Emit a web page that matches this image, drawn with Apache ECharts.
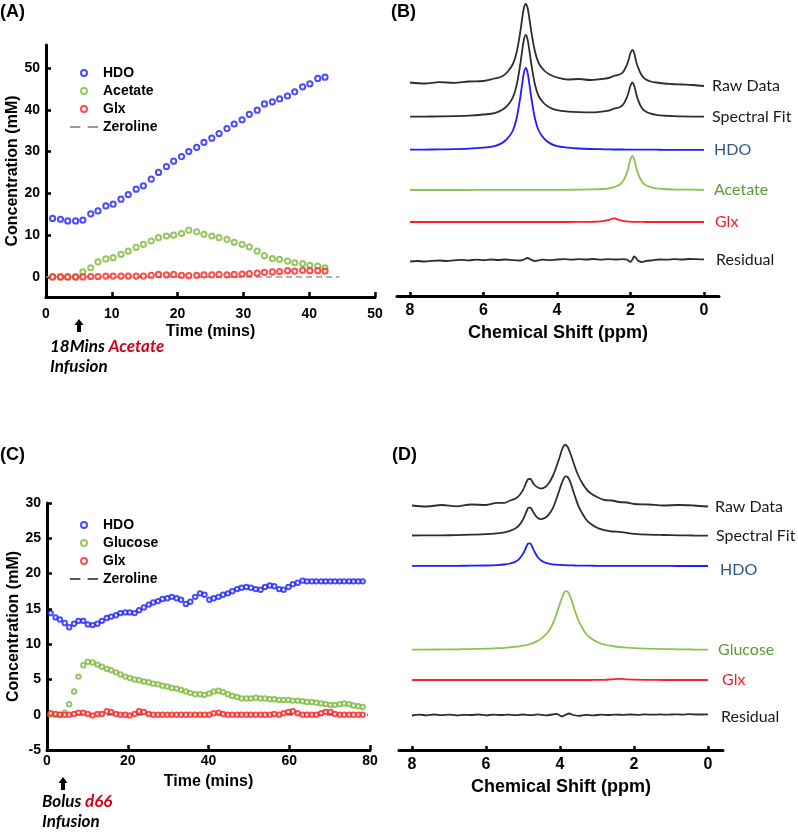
<!DOCTYPE html>
<html>
<head>
<meta charset="utf-8">
<script src="https://cdn.jsdelivr.net/npm/echarts@6/dist/echarts.min.js"></script>
<style>
  html, body { margin: 0; padding: 0; background: #fff; }
  #main { width: 798px; height: 833px; }
</style>
</head>
<body>
<div id="main"></div>
<script>
// ---- panel A : acetate infusion time course ----
var timeA = [1.0, 2.2, 3.3, 4.5, 5.6, 6.8, 7.9, 9.1, 10.2, 11.4,
  12.5, 13.7, 14.8, 16.0, 17.1, 18.3, 19.4, 20.6, 21.7, 22.9,
  24.0, 25.2, 26.3, 27.5, 28.6, 29.8, 30.9, 32.1, 33.2, 34.4,
  35.5, 36.7, 37.8, 39.0, 40.1, 41.3, 42.4];
var hdoA = [14.0, 13.8, 13.4, 13.4, 13.6, 15.1, 15.8, 17.0, 17.4, 18.6,
  19.7, 21.0, 21.8, 23.4, 25.0, 26.4, 27.7, 28.8, 30.0, 31.0,
  32.2, 33.2, 34.3, 35.5, 36.6, 37.6, 38.9, 39.9, 41.4, 41.9,
  42.6, 43.3, 44.3, 45.5, 46.2, 47.5, 47.8];
var acetateA = [0, 0, 0, 0, 1.2, 2.2, 3.6, 4.3, 4.6, 5.4,
  6.2, 7.1, 7.8, 8.6, 9.4, 9.8, 10.0, 10.4, 11.2, 10.8,
  10.2, 9.8, 9.4, 9.0, 8.3, 7.8, 7.2, 6.2, 5.1, 4.4,
  4.2, 3.8, 3.4, 3.2, 2.8, 2.6, 2.2];
var glxA = [0, 0, 0, 0, 0, 0.1, 0.1, 0.2, 0.2, 0.2,
  0.2, 0.2, 0.2, 0.4, 0.6, 0.5, 0.6, 0.4, 0.3, 0.4,
  0.5, 0.5, 0.6, 0.5, 0.6, 0.7, 0.8, 0.9, 1.1, 1.2,
  1.3, 1.5, 1.4, 1.6, 1.5, 1.5, 1.4];
var zeroA = [[0, 0], [44.6, 0]];
var yTicksA = [0, 10, 20, 30, 40, 50];

// ---- panel C : bolus d66 glucose time course ----
var timeC = [0.9, 2.1, 3.2, 4.4, 5.5, 6.7, 7.8, 9.0, 10.1, 11.3,
  12.5, 13.6, 14.8, 15.9, 17.1, 18.2, 19.4, 20.5, 21.7, 22.8,
  24.0, 25.2, 26.3, 27.5, 28.6, 29.8, 30.9, 32.1, 33.2, 34.4,
  35.5, 36.7, 37.9, 39.0, 40.2, 41.3, 42.5, 43.6, 44.8, 45.9,
  47.1, 48.2, 49.4, 50.5, 51.7, 52.9, 54.0, 55.2, 56.3, 57.5,
  58.6, 59.8, 60.9, 62.1, 63.3, 64.4, 65.6, 66.7, 67.9, 69.0,
  70.2, 71.3, 72.5, 73.6, 74.8, 75.9, 77.1, 78.2];
var hdoC = [14.4, 13.8, 13.5, 13.0, 12.4, 12.9, 13.3, 13.3, 12.8, 12.7,
  12.9, 13.3, 13.7, 13.9, 14.1, 14.4, 14.5, 14.5, 14.4, 14.8,
  15.2, 15.6, 15.9, 16.1, 16.4, 16.5, 16.7, 16.5, 16.3, 15.7,
  16.0, 16.7, 17.2, 17.0, 16.3, 16.5, 16.7, 17.0, 17.2, 17.5,
  17.8, 18.0, 18.1, 18.0, 17.8, 17.7, 18.1, 18.3, 18.2, 17.8,
  17.7, 18.1, 18.5, 18.7, 19.0, 18.9, 18.9, 18.9, 18.9, 18.9,
  18.9, 18.9, 18.9, 18.9, 18.9, 18.9, 18.9, 18.9];
var glucoseC = [0, 0, 0, 0.3, 1.5, 3.3, 5.4, 7.0, 7.5, 7.4,
  7.1, 6.8, 6.5, 6.3, 6.0, 5.7, 5.4, 5.2, 5.0, 4.9,
  4.7, 4.6, 4.4, 4.3, 4.1, 4.0, 3.8, 3.7, 3.5, 3.3,
  3.1, 2.9, 2.9, 2.8, 3.0, 3.3, 3.4, 3.2, 2.9, 2.65,
  2.5, 2.3, 2.3, 2.3, 2.4, 2.3, 2.3, 2.2, 2.2, 2.1,
  2.1, 2.1, 2.0, 2.0, 1.9, 1.8, 1.8, 1.7, 1.6, 1.5,
  1.4, 1.4, 1.5, 1.6, 1.5, 1.3, 1.2, 1.1];
var glxC = [0.2, 0.1, 0, 0, 0, 0.1, 0.3, 0.3, 0.1, -0.1,
  0.1, 0.1, 0.5, 0.4, 0.1, 0, 0, -0.1, 0.1, 0.5,
  0.4, 0.1, 0, 0, 0, 0, 0, 0, 0, 0,
  0, 0, 0, 0, 0, 0.2, 0.3, 0.1, 0, 0,
  0, 0, 0, 0, 0, 0, 0, 0, 0.1, 0,
  0.2, 0.4, 0.5, 0.2, 0, 0, 0, 0, 0.2, 0.4,
  0.4, 0.1, 0, 0, 0, 0, 0, 0];
var zeroC = [[0, 0], [79.5, 0]];

// ---- panel B : spectra after acetate ----
var ppmB = [8.0, 7.6, 7.2, 6.8, 6.4, 6.0, 5.7, 5.5, 5.35, 5.2,
  5.1, 5.0, 4.95, 4.9, 4.85, 4.8, 4.75, 4.7, 4.6, 4.5,
  4.35, 4.2, 4.0, 3.7, 3.4, 3.1, 2.8, 2.6, 2.45, 2.3,
  2.2, 2.1, 2.05, 2.0, 1.95, 1.9, 1.85, 1.8, 1.7, 1.6,
  1.45, 1.3, 1.1, 0.9, 0.6, 0.3, 0.0];
var rawB = [0.5, -0.5, 0.8, 0.2, 1.5, 2.0, 4.5, 6.5, 11, 19,
  30.5, 51, 64, 75, 79, 75, 64, 51.5, 31.5, 20,
  12.5, 8.5, 5.5, 3.5, 4.0, 3.0, 4.0, 5.0, 7.0, 8.5,
  11, 18, 23.5, 30, 33, 30, 22, 16, 8, 4,
  1.5, 0.5, -0.5, -1.0, -1.5, -2.0, -3.0];
var fitB = [0.3, 0.4, 0.6, 0.8, 1.3, 2.5, 3.9, 7.0, 11.4, 19.6,
  31.6, 52.6, 65.7, 77.3, 82.1, 77.4, 66, 53, 32.5, 21,
  13.5, 9.5, 6.8, 5.4, 4.8, 4.6, 5.3, 6.3, 8.4, 9.8,
  12.5, 19.5, 25, 31.5, 34.7, 31.2, 24, 17.6, 9.5, 5.8,
  3.3, 2.1, 1.3, 1.0, 0.6, 0.4, 0.3];
var hdoB = [0.3, 0.4, 0.6, 0.8, 1.3, 2.4, 3.8, 6.9, 11.3, 19.5,
  31.5, 52.5, 65.6, 77.2, 82, 77.2, 65.6, 52.5, 31.5, 19.5,
  11.3, 6.9, 3.8, 2.4, 1.5, 1.0, 0.8, 0.6, 0.5, 0.5,
  0.5, 0.4, 0.4, 0.4, 0.4, 0.4, 0.4, 0.4, 0.3, 0.3,
  0.3, 0.3, 0.2, 0.2, 0.2, 0.1, 0.1];
var acetateB = [0, 0, 0, 0, 0, 0.1, 0.1, 0.1, 0.1, 0.1,
  0.1, 0.1, 0.1, 0.1, 0.1, 0.1, 0.1, 0.1, 0.1, 0.1,
  0.1, 0.1, 0.1, 0.2, 0.3, 0.6, 1.0, 1.7, 2.9, 5.3,
  9, 17, 23.5, 30.6, 34, 30.6, 23.5, 17, 9, 5.3,
  2.9, 1.7, 1.0, 0.7, 0.4, 0.3, 0.2];
var glxB = [0, 0, 0, 0, 0, 0, 0, 0, 0, 0,
  0, 0, 0, 0, 0, 0, 0, 0, 0, 0,
  0, 0, 0, 0, 0.1, 0.2, 0.6, 2.0, 3.6, 2.0,
  1.1, 0.6, 0.4, 0.3, 0.2, 0.2, 0.1, 0.1, 0.1, 0,
  0, 0, 0, 0, 0, 0, 0];
var resPpmB = [8.0, 7.8, 7.6, 7.4, 7.2, 7.0, 6.8, 6.6, 6.4, 6.2,
  6.0, 5.8, 5.6, 5.4, 5.2, 5.0, 4.9, 4.8, 4.7, 4.6,
  4.4, 4.2, 4.0, 3.8, 3.6, 3.4, 3.2, 3.0, 2.8, 2.6,
  2.4, 2.2, 2.1, 2.0, 1.95, 1.9, 1.85, 1.8, 1.7, 1.6,
  1.4, 1.2, 1.0, 0.8, 0.6, 0.4, 0.2, 0.0];
var resB = [-1.5, -1.0, -1.5, -0.8, -0.5, -1.0, -0.3, 0.2, -0.3, 0.3,
  -0.2, 0.5, 0.0, 0.5, -0.2, -0.5, 0.5, 2.0, 0.2, -1.0,
  0.3, -0.2, 0.5, 0.8, 0.3, 0.8, 0.5, 1.0, 0.3, 0.8,
  0.5, 0.8, 0.3, -1.8, 0.5, 3.5, 2.0, -0.5, -2.0, -1.2,
  -0.3, 0.5, 0.3, 0.8, 0.5, 1.0, 0.8, 0.6];

// ---- panel D : spectra after glucose ----
var ppmD = [8.0, 7.6, 7.2, 6.8, 6.4, 6.0, 5.7, 5.5, 5.35, 5.2,
  5.1, 5.0, 4.95, 4.9, 4.85, 4.8, 4.75, 4.7, 4.6, 4.5,
  4.4, 4.3, 4.2, 4.1, 4.0, 3.95, 3.9, 3.85, 3.8, 3.75,
  3.7, 3.6, 3.5, 3.4, 3.3, 3.2, 3.0, 2.8, 2.6, 2.4,
  2.2, 2.0, 1.6, 1.2, 0.8, 0.4, 0.0];
var rawD = [0.5, -0.5, 1.0, -0.3, 1.5, 1.0, 3.2, 3.2, 5.5, 7.5,
  10.5, 16, 20, 24.5, 27, 27, 24.5, 21.5, 18.5, 17.5,
  19, 23, 29.5, 39, 50, 56, 60, 61, 59.5, 55.5,
  50.5, 39.5, 30, 23, 17.5, 13.5, 9, 6, 5.5, 4,
  3.5, 2, 1.5, 0.5, 1.0, 0.5, -0.5];
var fitD = [0.5, 0.55, 0.66, 0.9, 1.3, 1.8, 2.7, 3.7, 5.2, 7.7,
  10.8, 16.5, 20.6, 25.0, 28.3, 28.4, 25.8, 22.5, 18.0, 16.9,
  18.2, 21.6, 27.4, 36.7, 47.7, 53.1, 57.4, 59.6, 59.2, 56.4,
  51.7, 40.2, 29.9, 22.7, 16.8, 13.0, 8.2, 5.8, 4.5, 4.2,
  3.1, 2.2, 1.4, 1.0, 0.7, 0.5, 0.4];
var hdoD = [0.1, 0.1, 0.1, 0.2, 0.3, 0.5, 0.9, 1.5, 2.5, 4.4,
  7.1, 12.2, 15.9, 20.0, 22.7, 22.4, 19.2, 15.1, 8.8, 5.3,
  3.4, 2.4, 1.7, 1.3, 1.1, 1.0, 0.9, 0.8, 0.7, 0.7,
  0.6, 0.5, 0.4, 0.4, 0.3, 0.3, 0.2, 0.2, 0.2, 0.1,
  0.1, 0.1, 0.1, 0.1, 0, 0, 0];
var glucoseD = [0.4, 0.45, 0.56, 0.72, 0.97, 1.3, 1.8, 2.2, 2.7, 3.3,
  3.7, 4.3, 4.7, 5.0, 5.6, 6.0, 6.6, 7.4, 9.2, 11.6,
  14.8, 19.2, 25.7, 35.4, 46.6, 52.1, 56.5, 58.8, 58.5, 55.7,
  51.1, 39.7, 29.5, 22.3, 16.5, 12.7, 8.0, 5.5, 4.0, 3.0,
  2.3, 1.8, 1.3, 0.9, 0.7, 0.5, 0.4];
var glxD = [0, 0, 0, 0, 0, 0, 0, 0, 0, 0,
  0, 0, 0, 0, 0, 0, 0, 0, 0, 0,
  0, 0, 0, 0, 0, 0, 0, 0, 0, 0,
  0, 0, 0, 0, 0, 0, 0.1, 0.2, 0.7, 1.2,
  0.7, 0.3, 0.1, 0, 0, 0, 0];
var resPpmD = [8.0, 7.8, 7.6, 7.4, 7.2, 7.0, 6.8, 6.6, 6.4, 6.2,
  6.0, 5.8, 5.6, 5.4, 5.2, 5.0, 4.8, 4.6, 4.4, 4.2,
  4.1, 4.0, 3.95, 3.85, 3.75, 3.65, 3.5, 3.3, 3.1, 2.9,
  2.7, 2.5, 2.3, 2.1, 1.9, 1.7, 1.5, 1.3, 1.1, 0.9,
  0.7, 0.5, 0.3, 0.0];
var resD = [-0.5, 0.3, -0.3, 0.5, -0.2, 0.4, -0.3, 0.2, 0.0, 0.5,
  -0.3, 0.3, 0.0, 0.4, -0.2, 0.5, -0.2, 0.6, -0.3, 0.5,
  1.2, -0.5, -1.5, 0.2, 1.5, 0.0, -0.8, 0.2, -0.3, 0.3,
  0.0, 0.4, 0.1, 0.5, 0.2, 0.6, 0.3, 0.6, 0.3, 0.7,
  0.4, 0.8, 0.5, 0.6];
var ppmTicks = [0, 2, 4, 6, 8];

// ---------------------------------------------------------------
var FONT = 'Liberation Sans';
var LABEL_FONT = 'Lato';
var myChart = echarts.init(document.getElementById('main'));

function zip(xs, ys, off) {
  return xs.map(function (x, i) { return [x, ys[i] + (off || 0)]; });
}

var boldTxt = function (size) {
  return { fontFamily: FONT, fontWeight: 'bold', fontSize: size, color: '#000' };
};

function concAxis(grid, min, max, extra) {
  return Object.assign({
    gridIndex: grid, type: 'value', min: min, max: max,
    name: 'Concentration (mM)', nameLocation: 'middle', nameGap: 25,
    nameTextStyle: boldTxt(16),
    axisLine: { show: true, onZero: false, lineStyle: { color: '#000', width: 3 } },
    axisTick: { show: true, inside: true, length: 5, lineStyle: { color: '#000', width: 2.5 } },
    axisLabel: Object.assign({ margin: 6 }, boldTxt(14)),
    splitLine: { show: false }
  }, extra || {});
}
function timeAxis(grid, max, interval, margin, gap) {
  return {
    gridIndex: grid, type: 'value', min: 0, max: max, interval: interval,
    name: 'Time (mins)', nameLocation: 'middle', nameGap: gap,
    nameTextStyle: boldTxt(16),
    axisLine: { show: true, onZero: false, lineStyle: { color: '#000', width: 3 } },
    axisTick: { show: true, inside: true, length: 5, lineStyle: { color: '#000', width: 2.5 } },
    axisLabel: Object.assign({ margin: margin }, boldTxt(14)),
    splitLine: { show: false }
  };
}
function ppmAxis(grid, min, max) {
  return {
    gridIndex: grid, type: 'value', inverse: true, min: min, max: max,
    name: 'Chemical Shift (ppm)', nameLocation: 'middle', nameGap: 28,
    nameTextStyle: boldTxt(18),
    axisLine: { show: true, onZero: false, lineStyle: { color: '#000', width: 3 } },
    axisTick: { show: true, inside: true, length: 4, customValues: ppmTicks,
      lineStyle: { color: '#000', width: 2.5 } },
    axisLabel: Object.assign({ margin: 7, customValues: ppmTicks }, boldTxt(16)),
    splitLine: { show: false }
  };
}
function hiddenY(grid, max) {
  return { gridIndex: grid, type: 'value', min: 0, max: max, show: false };
}

function dots(name, grid, xs, ys, color, size, bw) {
  return {
    name: name, type: 'scatter', xAxisIndex: grid, yAxisIndex: grid,
    data: zip(xs, ys), symbol: 'emptyCircle', symbolSize: size,
    itemStyle: { color: color, borderWidth: bw }, z: 3
  };
}
function zeroLine(grid, data, color) {
  return {
    name: 'Zeroline', type: 'line', xAxisIndex: grid, yAxisIndex: grid,
    data: data, symbol: 'none', z: 2,
    itemStyle: { color: color },
    lineStyle: { color: color, width: 1.5, type: [6, 4] }
  };
}
// spectrum trace; its label sits just right of the ppm=0 end
function trace(id, label, grid, xs, ys, off, color, labelColor, dist, dy) {
  return {
    name: id, type: 'line', xAxisIndex: grid, yAxisIndex: grid,
    data: zip(xs, ys, off), symbol: 'none', smooth: 0.35,
    lineStyle: { color: color, width: 1.8 },
    endLabel: { show: true, formatter: label, distance: -dist, align: 'left',
      verticalAlign: 'middle', offset: [0, dy || 0],
      fontFamily: LABEL_FONT, fontSize: 16, color: labelColor }
  };
}

var BLUE = '#1e1eff', GREEN = '#7cb83a', RED = '#ff2020';
var TRACE = '#2e2e2e';
var TXT = '#1a1a1a', HDO_TXT = '#34558b', GRN_TXT = '#5e9a36', RED_TXT = '#ee1c25';

// vertical offsets of each stacked spectrum (layout only)
var offB = { raw: 213, fit: 179, hdo: 146, ace: 106, glx: 74, res: 36 };
var offD = { raw: 244, fit: 214, hdo: 184, glc: 100, glx: 70, res: 35 };

var DASH_ICON = 'path://M0,0H10V2H0Z M17,0H27V2H17Z';
function legendFor(top, names, zeroColor) {
  return {
    orient: 'vertical', left: 70, top: top, padding: 0,
    itemWidth: 28, itemHeight: 6, itemGap: 4,
    selectedMode: false,
    textStyle: { fontFamily: FONT, fontWeight: 'bold', fontSize: 14, color: '#000' },
    data: names.concat([{ name: 'Zeroline', icon: DASH_ICON, itemStyle: { color: zeroColor, borderWidth: 0 } }])
  };
}

function arrow(cx, tip) {
  return {
    type: 'polygon',
    shape: { points: [[cx, tip], [cx + 4.5, tip + 6], [cx + 2, tip + 6], [cx + 2, tip + 13],
      [cx - 2, tip + 13], [cx - 2, tip + 6], [cx - 4.5, tip + 6]] },
    style: { fill: '#000' }
  };
}
function note(x, y, first, red) {
  return {
    type: 'text', left: x, top: y,
    style: {
      text: '{k|' + first + ' }{r|' + red + '}\n{k|Infusion}',
      rich: {
        k: { fontFamily: LABEL_FONT, fontStyle: 'italic', fontWeight: 'bold', fontSize: 17, fill: '#000', lineHeight: 20 },
        r: { fontFamily: LABEL_FONT, fontStyle: 'italic', fontWeight: 'bold', fontSize: 17, fill: '#d0021b', lineHeight: 20 }
      }
    }
  };
}
function panelTag(x, y, t) {
  return { type: 'text', left: x, top: y,
    style: { text: t, fontFamily: FONT, fontWeight: 'bold', fontSize: 18, fill: '#000' } };
}

var option = {
  animation: false,
  backgroundColor: '#fff',
  grid: [
    { left: 46, top: 45, width: 329, height: 252, outerBoundsMode: 'none' },
    { left: 47, top: 503, width: 323, height: 247, outerBoundsMode: 'none' },
    { left: 397, top: 0, width: 322, height: 296, outerBoundsMode: 'none' },
    { left: 399, top: 430, width: 324, height: 320, outerBoundsMode: 'none' }
  ],
  xAxis: [
    timeAxis(0, 50, 10, 10, 27),
    timeAxis(1, 80, 20, 4, 24),
    ppmAxis(2, -0.408, 8.354),
    ppmAxis(3, -0.405, 8.351)
  ],
  yAxis: [
    concAxis(0, -4.8, 55.5, {
      axisTick: { show: true, inside: true, length: 5, customValues: yTicksA, lineStyle: { color: '#000', width: 2.5 } },
      axisLabel: Object.assign({ margin: 6, customValues: yTicksA }, boldTxt(14))
    }),
    concAxis(1, -5, 30, { interval: 5 }),
    hiddenY(2, 296),
    hiddenY(3, 320)
  ],
  legend: [
    legendFor(66, ['HDO', 'Acetate', 'Glx'], '#999'),
    legendFor(518, ['HDO', 'Glucose', 'Glx'], '#555')
  ],
  graphic: [
    panelTag(0, 3, '(A)'),
    panelTag(391, 3, '(B)'),
    panelTag(0, 446, '(C)'),
    panelTag(392, 446, '(D)'),
    arrow(79, 319),
    note(50, 338, '18Mins', 'Acetate'),
    arrow(63, 777),
    note(42, 793, 'Bolus', 'd66')
  ],
  series: [
    zeroLine(0, zeroA, '#999'),
    dots('HDO', 0, timeA, hdoA, BLUE, 5.2, 1.4),
    dots('Acetate', 0, timeA, acetateA, GREEN, 5.2, 1.4),
    dots('Glx', 0, timeA, glxA, RED, 5.2, 1.4),

    zeroLine(1, zeroC, '#555'),
    dots('HDO', 1, timeC, hdoC, BLUE, 4.4, 1.2),
    dots('Glucose', 1, timeC, glucoseC, GREEN, 4.4, 1.2),
    dots('Glx', 1, timeC, glxC, RED, 4.4, 1.2),

    trace('B raw', 'Raw Data', 2, ppmB, rawB, offB.raw, TRACE, TXT, 8),
    trace('B fit', 'Spectral Fit', 2, ppmB, fitB, offB.fit, TRACE, TXT, 8),
    trace('B hdo', 'HDO', 2, ppmB, hdoB, offB.hdo, BLUE, HDO_TXT, 10),
    trace('B ace', 'Acetate', 2, ppmB, acetateB, offB.ace, '#8cc34e', GRN_TXT, 10),
    trace('B glx', 'Glx', 2, ppmB, glxB, offB.glx, RED, RED_TXT, 11),
    trace('B res', 'Residual', 2, resPpmB, resB, offB.res, TRACE, TXT, 12),

    trace('D raw', 'Raw Data', 3, ppmD, rawD, offD.raw, TRACE, TXT, 7),
    trace('D fit', 'Spectral Fit', 3, ppmD, fitD, offD.fit, TRACE, TXT, 8),
    trace('D hdo', 'HDO', 3, ppmD, hdoD, offD.hdo, BLUE, HDO_TXT, 12, 4),
    trace('D glc', 'Glucose', 3, ppmD, glucoseD, offD.glc, '#8cc34e', GRN_TXT, 10),
    trace('D glx', 'Glx', 3, ppmD, glxD, offD.glx, RED, RED_TXT, 14),
    trace('D res', 'Residual', 3, resPpmD, resD, offD.res, TRACE, TXT, 13, 2)
  ]
};
myChart.setOption(option);
</script>
</body>
</html>
